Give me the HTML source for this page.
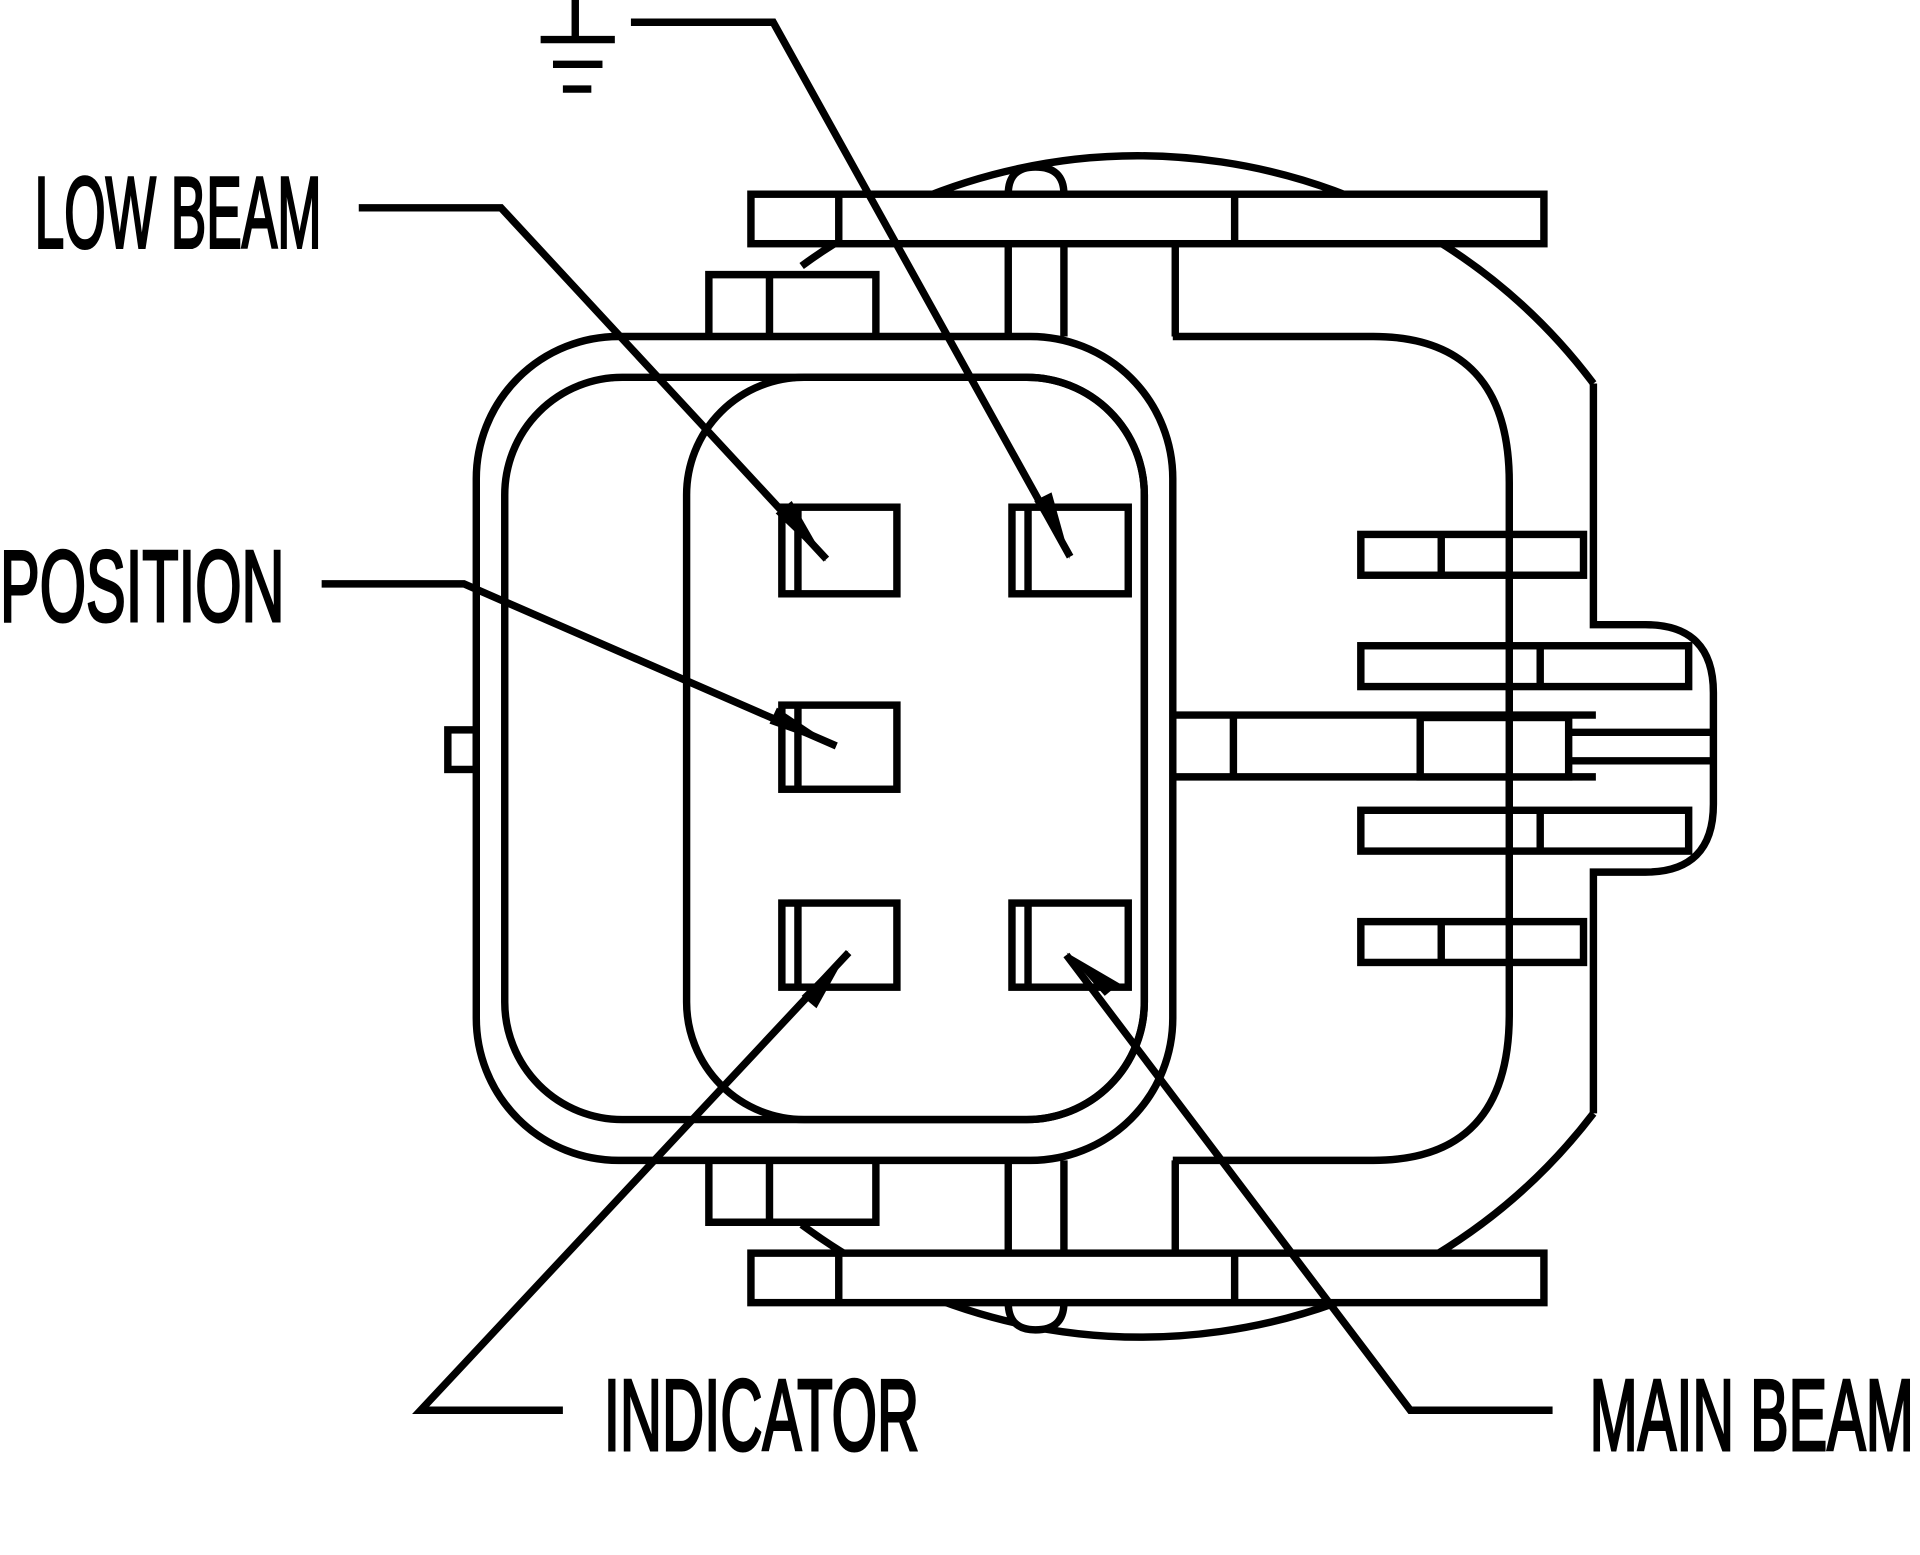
<!DOCTYPE html>
<html><head><meta charset="utf-8"><style>
html,body{margin:0;padding:0;background:#fff;width:1920px;height:1555px;overflow:hidden}
svg{display:block}
text{font-family:"Liberation Sans",sans-serif;font-size:82px;fill:#000;stroke:#000;stroke-width:2.5}
</style></head><body>
<svg width="1920" height="1555" viewBox="0 0 1552 1257" preserveAspectRatio="none">
<g fill="none" stroke="#000" stroke-width="6" stroke-linejoin="miter">
<!-- background circle -->
<path d="M648,215 A460,460 0 0 1 1288,310" />
<path d="M648,990 A460,460 0 0 0 1288,900" />
<!-- right housing outline -->
<path d="M1288,310 L1288,505 L1330,505 Q1385,505 1385,560 L1385,650 Q1385,705 1330,705 L1288,705 L1288,900"/>
<!-- outer rounded rect -->
<rect x="385" y="272" width="563" height="666" rx="115"/>
<rect x="408" y="305" width="517" height="600" rx="95"/>
<rect x="555" y="305" width="370" height="600" rx="95"/>
<!-- right housing -->
<path d="M948,272 L1110,272 Q1220,272 1220,390 L1220,820 Q1220,938 1110,938 L948,938"/>
<path d="M948,578 L1290,578 M948,628 L1290,628 M997,578 L997,628"/>
<!-- right pins -->
<rect x="1100" y="432" width="180" height="33" fill="#fff"/><line x1="1165" y1="432" x2="1165" y2="465"/>
<rect x="1100" y="522" width="265" height="33" fill="#fff"/><line x1="1245" y1="522" x2="1245" y2="555"/>
<rect x="1148" y="580" width="120" height="48" fill="#fff"/>
<rect x="1100" y="655" width="265" height="33" fill="#fff"/><line x1="1245" y1="655" x2="1245" y2="688"/>
<rect x="1100" y="745" width="180" height="33" fill="#fff"/><line x1="1165" y1="745" x2="1165" y2="778"/>
<line x1="1220" y1="432" x2="1220" y2="778"/>
<line x1="1268" y1="592" x2="1385" y2="592"/><line x1="1268" y1="615" x2="1385" y2="615"/>
<!-- left tab -->
<rect x="362" y="590" width="23" height="32"/>
<!-- top structure -->
<path d="M815,157 Q815,135 837,135 Q860,135 860,157" fill="#fff"/>
<rect x="607" y="157" width="641" height="40" fill="#fff"/>
<line x1="678" y1="157" x2="678" y2="197"/><line x1="998" y1="157" x2="998" y2="197"/>
<path d="M815,272 L815,197 M860,272 L860,197"/>
<path d="M950,197 L950,272"/>
<path d="M573,272 L573,222 L622,222 M622,272 L622,222 L708,222 L708,272"/>
<!-- bottom structure -->
<path d="M815,1053 Q815,1075 837,1075 Q860,1075 860,1053" fill="#fff"/>
<rect x="607" y="1013" width="641" height="40" fill="#fff"/>
<line x1="678" y1="1013" x2="678" y2="1053"/><line x1="998" y1="1013" x2="998" y2="1053"/>
<path d="M815,938 L815,1013 M860,938 L860,1013"/>
<path d="M950,1013 L950,938"/>
<path d="M573,938 L573,988 L622,988 M622,938 L622,988 L708,988 L708,938"/>
<!-- pin rects -->
<rect x="632" y="410" width="93" height="70"/><line x1="645" y1="410" x2="645" y2="480"/>
<rect x="818" y="410" width="94" height="70"/><line x1="831" y1="410" x2="831" y2="480"/>
<rect x="632" y="570" width="93" height="68"/><line x1="645" y1="570" x2="645" y2="638"/>
<rect x="632" y="730" width="93" height="68"/><line x1="645" y1="730" x2="645" y2="798"/>
<rect x="818" y="730" width="94" height="68"/><line x1="831" y1="730" x2="831" y2="798"/>
<!-- ground -->
<line x1="465" y1="0" x2="465" y2="32"/>
<line x1="437" y1="32" x2="497" y2="32"/>
<line x1="447" y1="52" x2="487" y2="52"/>
<line x1="455" y1="72" x2="478" y2="72"/>
<!-- leaders -->
<polyline points="510,18 625,18 865,450"/>
<polyline points="290,168 405,168 668,452"/>
<polyline points="260,472 375,472 676,603"/>
<polyline points="455,1140 340,1140 686,770"/>
<polyline points="1255,1140 1140,1140 862,772"/>
</g>
<g fill="#000">
<polygon points="865,452 836,405 850,398"/>
<polygon points="668,454 627,415 640,405"/>
<polygon points="676,604 622,585 628,572"/>
<polygon points="686,768 660,815 648,805"/>
<polygon points="862,770 905,795 893,805"/>
</g>
<text x="28" y="200" textLength="232" lengthAdjust="spacingAndGlyphs">LOW BEAM</text>
<text x="0" y="502" textLength="230" lengthAdjust="spacingAndGlyphs">POSITION</text>
<text x="488" y="1172" textLength="255" lengthAdjust="spacingAndGlyphs">INDICATOR</text>
<text x="1285" y="1172" textLength="262" lengthAdjust="spacingAndGlyphs">MAIN BEAM</text>
</svg>
</body></html>
